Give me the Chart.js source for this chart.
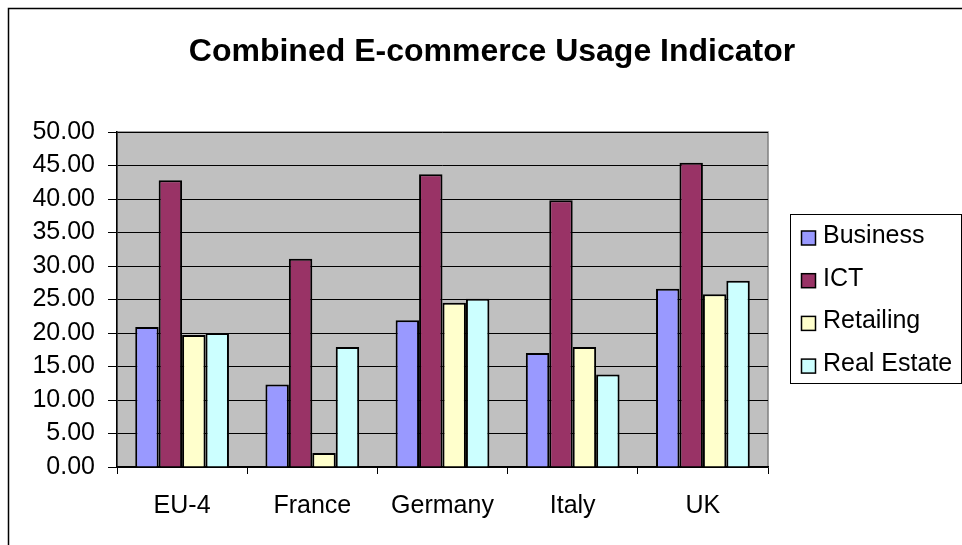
<!DOCTYPE html>
<html>
<head>
<meta charset="utf-8">
<script src="https://cdn.jsdelivr.net/npm/chart.js@4.4.1/dist/chart.umd.min.js"></script>
<style>
  html, body { margin: 0; padding: 0; background: #ffffff; }
  #wrap { width: 962px; height: 545px; position: relative; }
</style>
</head>
<body>
<div id="wrap"><canvas id="c"></canvas></div>
<script>
const chartTitle = "Combined E-commerce Usage Indicator";
const categories = ["EU-4", "France", "Germany", "Italy", "UK"];
const seriesNames = ["Business", "ICT", "Retailing", "Real Estate"];
const business   = [20.9, 12.3, 21.9, 17.0, 26.6];
const ict        = [42.8, 31.1, 43.7, 39.8, 45.4];
const retailing  = [19.7, 2.1, 24.5, 17.9, 25.8];
const realEstate = [20.0, 17.9, 25.1, 13.8, 27.8];
const yTicks = { min: 0, max: 50, step: 5 };
const colors = ["#9999FF", "#993366", "#FFFFCC", "#CCFFFF"];

const FONT = "'Liberation Sans', Arial, sans-serif";
const seriesValues = [business, ict, retailing, realEstate];

const decor = {
  id: "decor",
  beforeDraw(chart) {
    const ctx = chart.ctx;
    const a = chart.chartArea;
    ctx.save();
    ctx.fillStyle = "#ffffff";
    ctx.fillRect(0, 0, chart.width, chart.height);
    // outer chart border
    ctx.strokeStyle = "#000000";
    ctx.lineWidth = 1.5;
    ctx.strokeRect(8.5, 8.5, 1000, 600);
    // plot area background
    ctx.fillStyle = "#C0C0C0";
    ctx.fillRect(a.left, a.top, a.right - a.left, a.bottom - a.top);
    ctx.strokeStyle = "#808080";
    ctx.lineWidth = 1.5;
    ctx.strokeRect(a.left, a.top, a.right - a.left, a.bottom - a.top);
    ctx.restore();
  },
  afterDraw(chart) {
    const ctx = chart.ctx;
    ctx.save();
    // title
    ctx.fillStyle = "#000000";
    ctx.font = "bold 32px " + FONT;
    ctx.textAlign = "center";
    ctx.textBaseline = "middle";
    ctx.fillText(chartTitle, 492, 52);
    // legend
    const lx = 790, ly = 214, lw = 171, lh = 169;
    ctx.fillStyle = "#ffffff";
    ctx.fillRect(lx, ly, lw, lh);
    ctx.strokeStyle = "#000000";
    ctx.lineWidth = 1;
    ctx.strokeRect(lx + 0.5, ly + 0.5, lw, lh);
    ctx.font = "25px " + FONT;
    ctx.textAlign = "left";
    ctx.textBaseline = "alphabetic";
    chart.data.datasets.forEach((ds, i) => {
      const cy = 238 + i * 42.7;
      ctx.fillStyle = ds.backgroundColor;
      ctx.fillRect(801.5, cy - 7, 14, 14);
      ctx.strokeStyle = "#000000";
      ctx.lineWidth = 1.5;
      ctx.strokeRect(801.5, cy - 7, 14, 14);
      ctx.fillStyle = "#000000";
      ctx.fillText(ds.label, 823, cy + 5);
    });
    ctx.restore();
  }
};

new Chart(document.getElementById("c"), {
  type: "bar",
  data: {
    labels: categories,
    datasets: seriesNames.map((name, i) => ({
      label: name,
      data: seriesValues[i],
      backgroundColor: colors[i],
      borderColor: "#000000",
      borderWidth: 2,
      categoryPercentage: 0.72,
      barPercentage: 1.0
    }))
  },
  options: {
    responsive: true,
    maintainAspectRatio: false,
    animation: false,
    devicePixelRatio: 1,
    layout: { padding: { top: 132, right: 194, left: 0, bottom: 0 } },
    plugins: {
      legend: { display: false },
      title: { display: false },
      tooltip: { enabled: false }
    },
    scales: {
      x: {
        afterFit(scale) { scale.height = 78; },
        grid: {
          offset: true,
          drawOnChartArea: false,
          drawTicks: true,
          tickLength: 7,
          color: "#000000",
          lineWidth: 1
        },
        border: { display: true, color: "#000000", width: 1.5 },
        ticks: {
          color: "#000000",
          font: { family: FONT, size: 25 },
          padding: 17,
          maxRotation: 0
        }
      },
      y: {
        min: yTicks.min,
        max: yTicks.max,
        afterFit(scale) { scale.width = 117; },
        grid: {
          color: "#000000",
          lineWidth: 1,
          drawTicks: true,
          tickLength: 9
        },
        border: { display: true, color: "#000000", width: 1.5 },
        ticks: {
          stepSize: yTicks.step,
          color: "#000000",
          font: { family: FONT, size: 25 },
          padding: 13,
          callback: (v) => Number(v).toFixed(2)
        }
      }
    }
  },
  plugins: [decor]
});
</script>
</body>
</html>
